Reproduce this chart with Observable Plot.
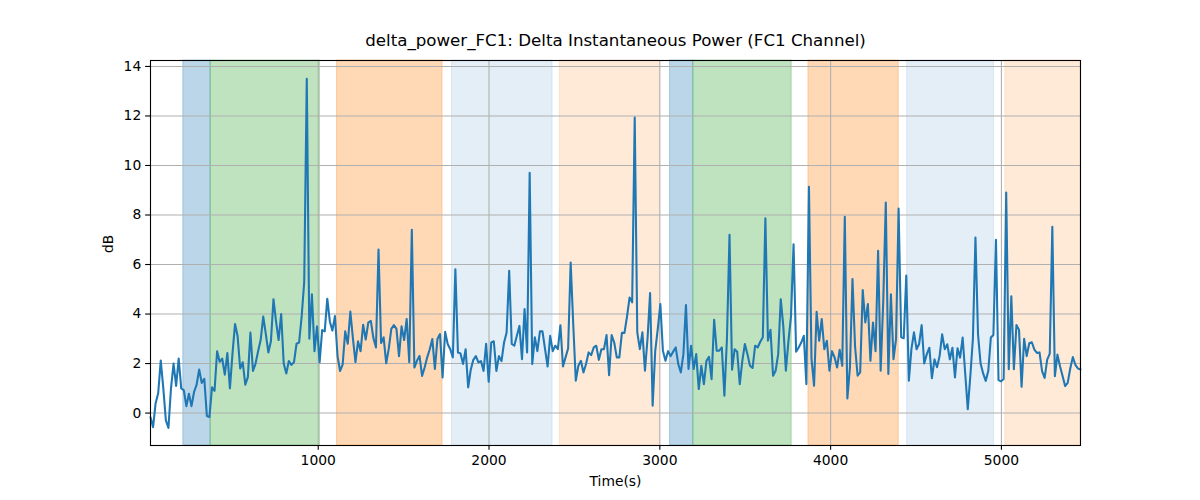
<!DOCTYPE html>
<html>
<head>
<meta charset="utf-8">
<script src="https://cdn.jsdelivr.net/npm/d3@7"></script>
<script src="https://cdn.jsdelivr.net/npm/@observablehq/plot@0.6"></script>
<style>
  html, body { margin: 0; padding: 0; background: #fff; }
  #chart { width: 1200px; height: 500px; }
</style>
</head>
<body>
<div id="chart"></div>
<script>
// ---- Data ----
const chartTitle = "delta_power_FC1: Delta Instantaneous Power (FC1 Channel)";
const xLabel = "Time(s)";
const yLabel = "dB";

const xTicks = [1000, 2000, 3000, 4000, 5000];
const yTicks = [0, 2, 4, 6, 8, 10, 12, 14];

const times = [
  18, 33, 48, 63, 78, 93, 108, 123, 138, 153,
  168, 183, 198, 213, 228, 243, 258, 273, 288, 303,
  318, 333, 348, 363, 378, 393, 408, 423, 438, 453,
  468, 483, 498, 513, 528, 543, 558, 573, 588, 603,
  618, 633, 648, 663, 678, 693, 708, 723, 738, 753,
  768, 783, 798, 813, 828, 843, 858, 873, 888, 903,
  918, 933, 948, 963, 978, 993, 1008, 1023, 1038, 1053,
  1068, 1083, 1098, 1113, 1128, 1143, 1158, 1173, 1188, 1203,
  1218, 1233, 1248, 1263, 1278, 1293, 1308, 1323, 1338, 1353,
  1368, 1383, 1398, 1413, 1428, 1443, 1458, 1473, 1488, 1503,
  1518, 1533, 1548, 1563, 1578, 1593, 1608, 1623, 1638, 1653,
  1668, 1683, 1698, 1713, 1728, 1743, 1758, 1773, 1788, 1803,
  1818, 1833, 1848, 1863, 1878, 1893, 1908, 1923, 1938, 1953,
  1968, 1983, 1998, 2013, 2028, 2043, 2058, 2073, 2088, 2103,
  2118, 2133, 2148, 2163, 2178, 2193, 2208, 2223, 2238, 2253,
  2268, 2283, 2298, 2313, 2328, 2343, 2358, 2373, 2388, 2403,
  2418, 2433, 2448, 2463, 2478, 2493, 2508, 2523, 2538, 2553,
  2568, 2583, 2598, 2613, 2628, 2643, 2658, 2673, 2688, 2703,
  2718, 2733, 2748, 2763, 2778, 2793, 2808, 2823, 2838, 2853,
  2868, 2883, 2898, 2913, 2928, 2943, 2958, 2973, 2988, 3003,
  3018, 3033, 3048, 3063, 3078, 3093, 3108, 3123, 3138, 3153,
  3168, 3183, 3198, 3213, 3228, 3243, 3258, 3273, 3288, 3303,
  3318, 3333, 3348, 3363, 3378, 3393, 3408, 3423, 3438, 3453,
  3468, 3483, 3498, 3513, 3528, 3543, 3558, 3573, 3588, 3603,
  3618, 3633, 3648, 3663, 3678, 3693, 3708, 3723, 3738, 3753,
  3768, 3783, 3798, 3813, 3828, 3843, 3858, 3873, 3888, 3903,
  3918, 3933, 3948, 3963, 3978, 3993, 4008, 4023, 4038, 4053,
  4068, 4083, 4098, 4113, 4128, 4143, 4158, 4173, 4188, 4203,
  4218, 4233, 4248, 4263, 4278, 4293, 4308, 4323, 4338, 4353,
  4368, 4383, 4398, 4413, 4428, 4443, 4458, 4473, 4488, 4503,
  4518, 4533, 4548, 4563, 4578, 4593, 4608, 4623, 4638, 4653,
  4668, 4683, 4698, 4713, 4728, 4743, 4758, 4773, 4788, 4803,
  4818, 4833, 4848, 4863, 4878, 4893, 4908, 4923, 4938, 4953,
  4968, 4983, 4998, 5013, 5028, 5043, 5058, 5073, 5088, 5103,
  5118, 5133, 5148, 5163, 5178, 5193, 5208, 5223, 5238, 5253,
  5268, 5283, 5298, 5313, 5328, 5343, 5358, 5373, 5388, 5403,
  5418, 5433, 5448, 5463
];

const power = [
  -0.17, -0.57, 0.4, 0.8, 2.12, 1.0, -0.3, -0.6, 1.0, 2.0,
  1.1, 2.2, 1.0, 0.92, 0.28, 0.78, 0.28, 0.85, 1.15, 1.76,
  1.22, 1.38, -0.12, -0.16, 1.04, 0.9, 2.5, 2.07, 2.2, 1.55,
  2.42, 1.0, 2.4, 3.6, 3.1, 1.8, 2.05, 1.15, 1.45, 3.25,
  1.7, 2.0, 2.5, 2.95, 3.9, 3.2, 2.45, 2.9, 4.6, 3.7,
  2.95, 4.0, 2.0, 1.6, 2.1, 1.95, 2.05, 2.8, 2.85, 3.9,
  5.3, 13.5, 3.0, 4.8, 2.5, 3.5, 2.05, 3.35, 3.3, 4.62,
  3.7, 3.33, 3.92, 2.3, 1.7, 1.96, 3.3, 2.8, 4.1, 3.03,
  2.06, 2.9, 2.5, 3.57, 2.97, 3.65, 3.72, 3.03, 2.65, 6.6,
  2.83, 3.06, 2.01, 2.6, 3.4, 3.55, 3.4, 2.3, 3.5, 2.95,
  3.8, 2.05, 7.4, 1.84, 2.11, 2.31, 1.5, 1.84, 2.25, 2.58,
  2.99, 1.78, 2.99, 3.19, 1.44, 3.28, 2.79, 2.58, 2.25, 5.81,
  2.45, 2.41, 1.98, 2.58, 1.04, 1.75, 2.15, 2.3, 2.05, 2.1,
  1.7, 2.8, 1.27, 2.85, 2.9, 1.7, 2.3, 2.1, 2.85, 3.25,
  5.75, 2.79, 2.72, 3.12, 3.52, 2.18, 4.2, 2.45, 9.7, 1.98,
  3.06, 2.5, 3.3, 3.3, 2.58, 1.88, 3.12, 2.5, 2.72, 2.58,
  3.55, 1.88, 2.25, 2.61, 6.08, 3.6, 1.31, 1.91, 2.11, 1.64,
  1.98, 2.45, 2.34, 2.65, 2.72, 2.15, 2.58, 2.58, 3.15, 1.53,
  3.15, 2.85, 2.25, 2.25, 3.24, 3.24, 3.9, 4.67, 4.47, 11.94,
  3.26, 2.58, 3.26, 1.71, 3.0, 4.85, 0.3, 2.5, 3.4, 4.4,
  2.52, 2.11, 2.5, 2.3, 2.48, 2.65, 1.98, 1.64, 2.38, 4.36,
  1.78, 2.72, 1.78, 2.38, 0.97, 1.91, 1.17, 2.11, 2.27, 1.37,
  3.77, 2.52, 2.52, 2.65, 0.7, 3.0, 7.2, 1.75, 2.58, 2.48,
  1.17, 2.11, 2.79, 2.38, 1.91, 1.82, 2.72, 2.65, 2.88, 3.06,
  7.87, 2.92, 3.36, 1.51, 1.71, 2.38, 4.6, 3.5, 1.71, 2.9,
  3.9, 6.82, 2.48, 2.65, 2.85, 3.12, 1.17, 9.14, 2.2, 1.1,
  4.09, 2.92, 3.8, 2.58, 2.92, 1.71, 2.5, 2.25, 1.84, 2.56,
  1.91, 7.93, 0.59, 1.84, 5.41, 2.7, 1.51, 1.64, 4.97, 3.66,
  4.4, 2.11, 3.66, 2.5, 6.55, 1.71, 4.5, 8.5, 1.58, 4.8,
  2.18, 2.99, 8.26, 3.06, 3.02, 5.55, 1.31, 2.58, 3.26, 2.58,
  2.79, 3.55, 2.0, 2.38, 2.64, 1.41, 2.17, 1.85, 2.3, 3.18,
  2.58, 2.78, 2.17, 2.64, 1.44, 2.62, 2.24, 3.05, 1.6, 0.16,
  1.5, 3.0, 7.09, 3.18, 2.0, 1.6, 1.3, 1.7, 3.05, 3.15,
  7.0, 1.33, 1.28, 1.38, 8.91, 1.77, 4.72, 1.77, 3.56, 3.36,
  1.06, 3.0, 2.3, 2.82, 2.86, 2.56, 2.43, 2.45, 1.69, 1.42,
  2.16, 2.4, 7.52, 1.49, 2.36, 1.89, 1.5, 1.09, 1.22, 1.8,
  2.26, 1.95, 1.8, 1.76
];

// Shaded intervals (seconds) and their category
const bandStart = [210, 370, 1110, 1783, 2415, 3060, 3196, 3870, 4448, 5023];
const bandEnd   = [370, 1010, 1728, 2372, 3001, 3196, 3772, 4399, 4957, 5463];
const bandKind  = ["blue", "green", "orange", "lightblue", "lightorange",
                   "blue", "green", "orange", "lightblue", "lightorange"];

// ---- Styles ----
const kindStyle = {
  blue:        { color: "#1f77b4", alpha: 0.3 },
  green:       { color: "#2ca02c", alpha: 0.3 },
  orange:      { color: "#ff7f0e", alpha: 0.3 },
  lightblue:   { color: "#1f77b4", alpha: 0.12 },
  lightorange: { color: "#ff7f0e", alpha: 0.16 }
};

const series = times.map((t, i) => ({ t, v: power[i] }));
const bands = bandStart.map((s, i) => ({ start: s, end: bandEnd[i], kind: bandKind[i] }));

const font = "DejaVu Sans, sans-serif";
const tickFont = 13.89;   // 10pt at 100 dpi
const titleFont = 16.67;  // 12pt at 100 dpi

const chart = Plot.plot({
  width: 1200,
  height: 500,
  marginLeft: 150,
  marginRight: 120,
  marginTop: 60,
  marginBottom: 55,
  style: { fontFamily: font, fontSize: tickFont + "px", color: "black", background: "white" },
  x: { domain: [18, 5463] },
  y: { domain: [-1.31, 14.24] },
  marks: [
    Plot.rect(bands, {
      x1: "start", x2: "end",
      fill: d => kindStyle[d.kind].color,
      fillOpacity: d => kindStyle[d.kind].alpha,
      stroke: d => kindStyle[d.kind].color,
      strokeOpacity: d => kindStyle[d.kind].alpha,
      strokeWidth: 1
    }),
    Plot.gridX(xTicks, { stroke: "#b0b0b0", strokeOpacity: 1, strokeWidth: 1.1 }),
    Plot.gridY(yTicks, { stroke: "#b0b0b0", strokeOpacity: 1, strokeWidth: 1.1 }),
    Plot.line(series, { x: "t", y: "v", stroke: "#1f77b4", strokeWidth: 2.08 }),
    Plot.axisX(xTicks, {
      tickSize: 4.86, tickPadding: 4.4, tickFormat: d3.format("d"),
      fontSize: tickFont, label: null, stroke: "black", strokeWidth: 1.1
    }),
    Plot.axisY(yTicks, {
      tickSize: 4.86, tickPadding: 4.4, tickFormat: d3.format("d"),
      fontSize: tickFont, label: null, stroke: "black", strokeWidth: 1.1
    }),
    Plot.frame({ stroke: "black", strokeWidth: 1.1 }),
    Plot.text([chartTitle], {
      frameAnchor: "top", dy: -20, lineAnchor: "middle",
      fontSize: titleFont, fill: "black"
    }),
    Plot.text([xLabel], {
      frameAnchor: "bottom", dy: 36.5, lineAnchor: "middle",
      fontSize: tickFont, fill: "black"
    }),
    Plot.text([yLabel], {
      frameAnchor: "left", dx: -42, rotate: -90, lineAnchor: "middle",
      fontSize: tickFont, fill: "black"
    })
  ]
});

document.getElementById("chart").appendChild(chart);
</script>
</body>
</html>
